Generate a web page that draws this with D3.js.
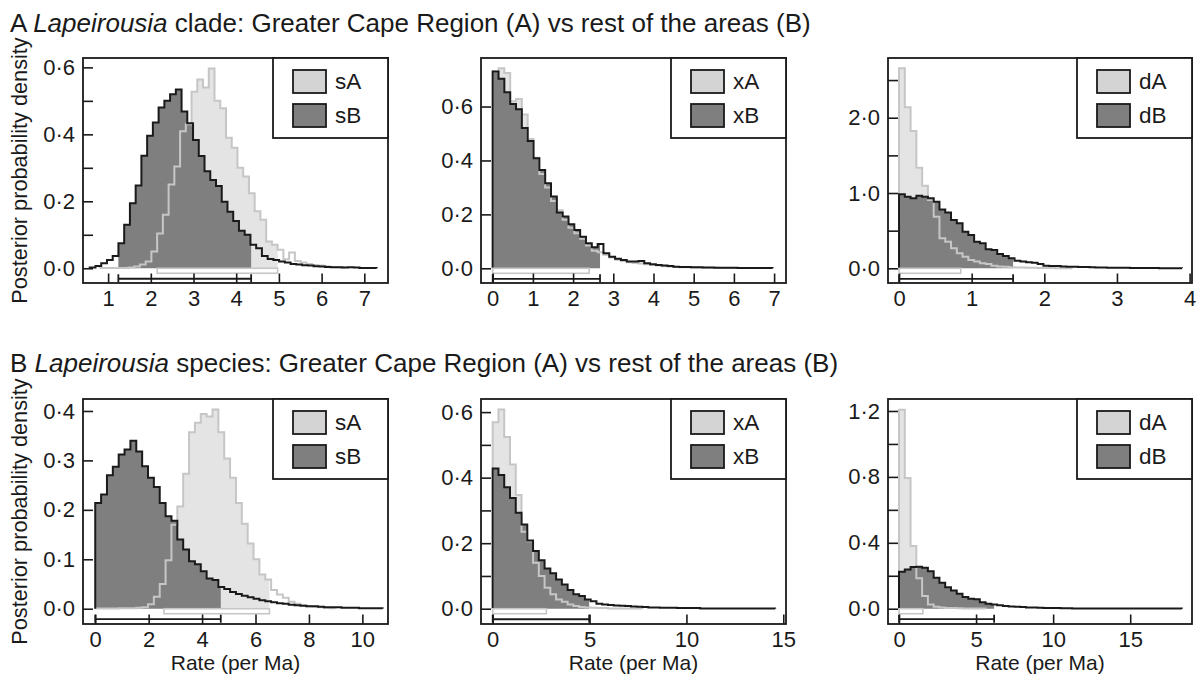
<!DOCTYPE html>
<html>
<head>
<meta charset="utf-8">
<script src="https://cdn.jsdelivr.net/npm/d3@7"></script>
<style>
  body { margin: 0; background: #fff; }
  svg { display: block; }
  text { font-family: 'Liberation Sans', Arial, sans-serif; fill: #1a1a1a; }
  .tick text { font-size: 22px; }
</style>
</head>
<body>
<div id="chart"></div>
<script>

// Row titles
const rowTitles = [
  ['A ', 'Lapeirousia', ' clade: Greater Cape Region (A) vs rest of the areas (B)'],
  ['B ', 'Lapeirousia', ' species: Greater Cape Region (A) vs rest of the areas (B)']
];
const legendKeys = [ ['sA', 'sB'], ['xA', 'xB'], ['dA', 'dB'] ];

// Posterior histograms (density per bin)
// A: clade
const cladeSA = [0.0005,0.0005,0.001,0.001,0.001,0.002,0.005,0.011,0.02,0.05,0.104,0.16,0.25,0.304,0.409,0.43,0.527,0.564,0.54,0.597,0.5,0.478,0.39,0.36,0.3,0.274,0.224,0.17,0.145,0.08,0.07,0.055,0.027,0.047,0.022,0.017,0.013,0.01,0.008,0.006,0.004,0.003,0.002];
const cladeSB = [0.002,0.007,0.015,0.025,0.037,0.075,0.13,0.194,0.247,0.336,0.396,0.435,0.48,0.5,0.52,0.534,0.468,0.433,0.383,0.335,0.29,0.264,0.246,0.199,0.169,0.141,0.112,0.1,0.07,0.06,0.037,0.028,0.025,0.02,0.017,0.013,0.011,0.009,0.008,0.006,0.005,0.004,0.003,0.003,0.002,0.003,0.002,0.001,0.001,0.001];
const cladeXA = [0.73,0.742,0.724,0.62,0.628,0.57,0.48,0.41,0.35,0.3,0.25,0.215,0.18,0.15,0.13,0.11,0.085,0.065,0.06,0.05,0.04,0.032,0.027,0.022,0.02,0.018,0.015,0.012,0.01,0.008,0.007,0.005,0.004,0.004,0.003,0.003,0.002,0.002,0.002,0.001,0.001,0.001,0.001,0.001,0.001,0.001,0.001,0.001];
const cladeXB = [0.73,0.703,0.653,0.609,0.59,0.52,0.472,0.408,0.365,0.315,0.266,0.207,0.192,0.163,0.142,0.117,0.093,0.078,0.09,0.056,0.043,0.035,0.031,0.025,0.025,0.027,0.019,0.015,0.012,0.01,0.009,0.006,0.005,0.005,0.004,0.004,0.003,0.003,0.002,0.002,0.002,0.002,0.001,0.001,0.001,0.001,0.001,0.001];
const cladeDA = [2.656,2.138,1.824,1.337,1.098,0.907,0.686,0.398,0.354,0.266,0.199,0.155,0.111,0.089,0.066,0.058,0.035,0.025,0.02,0.015,0.012,0.01,0.008,0.006,0.005,0.004,0.003,0.002,0.002,0.001];
const cladeDB = [0.983,0.952,0.93,0.965,0.952,0.93,0.885,0.78,0.74,0.64,0.6,0.487,0.443,0.354,0.332,0.252,0.243,0.19,0.164,0.133,0.102,0.089,0.08,0.075,0.058,0.035,0.031,0.03,0.025,0.022,0.02,0.018,0.016,0.014,0.012,0.01,0.009,0.008,0.007,0.006,0.005,0.004,0.004,0.003,0.003,0.002,0.002,0.002,0.001];
// B: species
const speciesSA = [0.0005,0.0005,0.0005,0.0005,0.001,0.001,0.001,0.002,0.003,0.009,0.024,0.05,0.098,0.17,0.207,0.273,0.357,0.376,0.394,0.389,0.403,0.357,0.304,0.265,0.214,0.172,0.132,0.1,0.069,0.059,0.038,0.029,0.022,0.014,0.01,0.007,0.005,0.004,0.003,0.002,0.001];
const speciesSB = [0.214,0.231,0.27,0.287,0.312,0.322,0.34,0.318,0.288,0.265,0.246,0.214,0.187,0.178,0.14,0.12,0.096,0.09,0.076,0.061,0.058,0.044,0.04,0.034,0.03,0.026,0.023,0.02,0.017,0.015,0.013,0.011,0.01,0.008,0.007,0.006,0.005,0.005,0.004,0.003,0.003,0.003,0.002,0.002,0.002,0.001,0.001,0.001,0.001];
const speciesXA = [0.569,0.608,0.524,0.44,0.347,0.235,0.206,0.14,0.1,0.064,0.044,0.028,0.021,0.013,0.008,0.005,0.004,0.003,0.002,0.002,0.001,0.001,0.001,0.001,0.001,0.001];
const speciesXB = [0.428,0.408,0.371,0.338,0.293,0.257,0.208,0.176,0.148,0.123,0.108,0.089,0.074,0.057,0.044,0.039,0.028,0.023,0.015,0.013,0.011,0.01,0.009,0.008,0.007,0.006,0.005,0.004,0.004,0.003,0.003,0.003,0.002,0.002,0.002,0.002,0.001,0.001,0.001,0.001,0.001,0.001,0.001,0.001,0.001,0.001,0.001,0.001,0.001];
const speciesDA = [1.208,0.794,0.38,0.185,0.077,0.026,0.012,0.008,0.005,0.004,0.003,0.002,0.002,0.001,0.001];
const speciesDB = [0.224,0.238,0.253,0.255,0.248,0.228,0.188,0.158,0.131,0.111,0.091,0.071,0.061,0.057,0.04,0.03,0.026,0.021,0.017,0.014,0.012,0.01,0.008,0.007,0.006,0.005,0.004,0.004,0.003,0.003,0.002,0.002,0.002,0.002,0.001,0.001,0.001,0.001,0.001,0.001,0.001,0.001,0.001,0.001,0.001,0.001,0.001,0.001,0.001];

// first bin edge and bin width of each panel (rate units)
const binStartA = [0.804, 0, 0, 0, 0, 0];
const binStartB = [0.57, 0, 0, 0, 0, 0];
const binWidth = [0.1344, 0.145, 0.0795, 0.2195, 0.2975, 0.3745];

// 95% HPD intervals
const hpdA = [[2.15, 4.97], [0, 2.40], [0, 0.85], [2.57, 6.52], [0, 2.77], [0, 1.55]];
const hpdB = [[1.24, 4.35], [0, 2.67], [0, 1.57], [0, 4.70], [0, 4.98], [0, 6.17]];

// axes
const xDomains = [[0.412, 7.555], [-0.291, 7.296], [-0.152, 4.033], [-0.458, 10.96], [-0.604, 15.14], [-0.715, 19.01]];
const yDomains = [[-0.044, 0.628], [-0.0545, 0.780], [-0.195, 2.793], [-0.0309, 0.4242], [-0.0466, 0.640], [-0.0927, 1.2727]];
const xTicks = [[1,2,3,4,5,6,7], [0,1,2,3,4,5,6,7], [0,1,2,3,4], [0,2,4,6,8,10], [0,5,10,15], [0,5,10,15]];
const yTicks = [[0,0.1,0.2,0.3,0.4,0.5,0.6], [0,0.2,0.4,0.6], [0,0.5,1,1.5,2,2.5], [0,0.1,0.2,0.3,0.4], [0,0.1,0.2,0.3,0.4,0.5,0.6], [0,0.2,0.4,0.6,0.8,1.0,1.2]];
const yLabelled = [[0,0.2,0.4,0.6], [0,0.2,0.4,0.6], [0,1,2], [0,0.1,0.2,0.3,0.4], [0,0.2,0.4,0.6], [0,0.4,0.8,1.2]];

const seriesA = [cladeSA, cladeXA, cladeDA, speciesSA, speciesXA, speciesDA];
const seriesB = [cladeSB, cladeXB, cladeDB, speciesSB, speciesXB, speciesDB];

// layout
const figure_width = 1196, figure_height = 685;
const colX = [[83, 388], [481, 786], [888, 1192]];
const rowY = [[58, 283], [399, 624]];

const lightFill = '#e4e4e4', lightLine = '#c6c6c6', darkFill = '#7f7f7f', darkLine = '#1a1a1a';

const svg = d3.select('#chart')
  .append('svg')
    .attr('width', figure_width)
    .attr('height', figure_height);

// row titles
rowTitles.forEach(function(t, r) {
  const txt = svg.append('text')
    .attr('x', 10)
    .attr('y', r === 0 ? 32 : 372)
    .attr('style', 'font-size:26px;');
  txt.append('tspan').text(t[0]);
  txt.append('tspan').style('font-style', 'italic').text(t[1]);
  txt.append('tspan').text(t[2]);

  svg.append('text')
    .attr('transform', 'translate(19,' + ((rowY[r][0] + rowY[r][1]) / 2) + ') rotate(-90)')
    .attr('text-anchor', 'middle')
    .attr('dominant-baseline', 'central')
    .attr('style', 'font-size:21.7px;')
    .text('Posterior probability density');
});

function histPoints(start, w, vals) {
  const pts = [[start, 0]];
  vals.forEach(function(v, i) { pts.push([start + i * w, v]); });
  pts.push([start + vals.length * w, vals[vals.length - 1]]);
  pts.push([start + vals.length * w, 0]);
  return pts;
}

function hpdPoints(start, w, vals, lo, hi) {
  const pts = [];
  vals.forEach(function(v, i) {
    const a = start + i * w, b = a + w;
    if (b <= lo || a >= hi) return;
    pts.push([Math.max(a, lo), v]);
  });
  pts.push([hi, pts[pts.length - 1][1]]);
  return pts;
}

const fmt = function(d) { return d3.format('.1f')(d).replace('.', '\u00b7'); };

for (let p = 0; p < 6; p++) {
  const col = p % 3, row = Math.floor(p / 3);
  const x = d3.scaleLinear().domain(xDomains[p]).range(colX[col]);
  const y = d3.scaleLinear().domain(yDomains[p]).range([rowY[row][1], rowY[row][0]]);
  const g = svg.append('g');

  const area = d3.area().curve(d3.curveStepAfter)
    .x(function(d) { return x(d[0]); })
    .y0(y(0))
    .y1(function(d) { return y(d[1]); });
  const line = d3.line().curve(d3.curveStepAfter)
    .x(function(d) { return x(d[0]); })
    .y(function(d) { return y(d[1]); });

  // HPD fills
  g.append('path')
    .attr('d', area(hpdPoints(binStartA[p], binWidth[p], seriesA[p], hpdA[p][0], hpdA[p][1])))
    .attr('fill', lightFill);
  g.append('path')
    .attr('d', area(hpdPoints(binStartB[p], binWidth[p], seriesB[p], hpdB[p][0], hpdB[p][1])))
    .attr('fill', darkFill);

  // outlines
  g.append('path')
    .attr('d', line(histPoints(binStartA[p], binWidth[p], seriesA[p])))
    .attr('fill', 'none').attr('stroke', lightLine).attr('stroke-width', 2);
  g.append('path')
    .attr('d', line(histPoints(binStartB[p], binWidth[p], seriesB[p])))
    .attr('fill', 'none').attr('stroke', darkLine).attr('stroke-width', 2);

  // HPD bars under the zero line
  const y0 = y(0);
  g.append('rect')
    .attr('x', x(hpdA[p][0])).attr('y', y0)
    .attr('width', x(hpdA[p][1]) - x(hpdA[p][0])).attr('height', 5)
    .attr('fill', 'none').attr('stroke', lightLine).attr('stroke-width', 1.6);
  const bl = g.append('g').attr('stroke', darkLine).attr('stroke-width', 1.8);
  bl.append('line')
    .attr('x1', x(hpdB[p][0])).attr('x2', x(hpdB[p][1]))
    .attr('y1', y0 + 10.5).attr('y2', y0 + 10.5);
  hpdB[p].forEach(function(v) {
    bl.append('line')
      .attr('x1', x(v)).attr('x2', x(v))
      .attr('y1', y0 + 6).attr('y2', y0 + 14);
  });

  // axes with inward ticks
  const xa = g.append('g')
    .attr('transform', 'translate(0,' + rowY[row][1] + ')')
    .call(d3.axisBottom(x).tickValues(xTicks[p]).tickSizeInner(-9.5).tickSizeOuter(0).tickPadding(7).tickFormat(d3.format('d')));
  const ya = g.append('g')
    .attr('transform', 'translate(' + colX[col][0] + ',0)')
    .call(d3.axisLeft(y).tickValues(yTicks[p]).tickSizeInner(-10).tickSizeOuter(0).tickPadding(8)
      .tickFormat(function(d) {
        return yLabelled[p].some(function(v) { return Math.abs(v - d) < 1e-9; }) ? fmt(d) : '';
      }));
  [xa, ya].forEach(function(a) {
    a.select('.domain').remove();
    a.selectAll('.tick line').attr('stroke', darkLine).attr('stroke-width', 1.6);
    a.selectAll('.tick text').attr('fill', '#1a1a1a');
  });

  // frame
  g.append('rect')
    .attr('x', colX[col][0]).attr('y', rowY[row][0])
    .attr('width', colX[col][1] - colX[col][0]).attr('height', rowY[row][1] - rowY[row][0])
    .attr('fill', 'none').attr('stroke', darkLine).attr('stroke-width', 1.8);

  // legend
  const lg = g.append('g').attr('transform', 'translate(' + (colX[col][1] - 115) + ',' + rowY[row][0] + ')');
  lg.append('rect').attr('width', 115).attr('height', 80)
    .attr('fill', '#fff').attr('stroke', darkLine).attr('stroke-width', 1.8);
  legendKeys[col].forEach(function(k, i) {
    lg.append('rect')
      .attr('x', 20).attr('y', 12 + i * 34).attr('width', 33).attr('height', 23)
      .attr('fill', i === 0 ? '#d4d4d4' : darkFill)
      .attr('stroke', darkLine).attr('stroke-width', 1.8);
    lg.append('text')
      .attr('x', 62).attr('y', 12 + i * 34 + 11.5)
      .attr('dominant-baseline', 'central')
      .attr('style', 'font-size:22.5px;')
      .text(k);
  });

  if (row === 1) {
    svg.append('text')
      .attr('x', (colX[col][0] + colX[col][1]) / 2)
      .attr('y', 670)
      .attr('text-anchor', 'middle')
      .attr('style', 'font-size:21px;')
      .text('Rate (per Ma)');
  }
}
</script>
</body>
</html>
